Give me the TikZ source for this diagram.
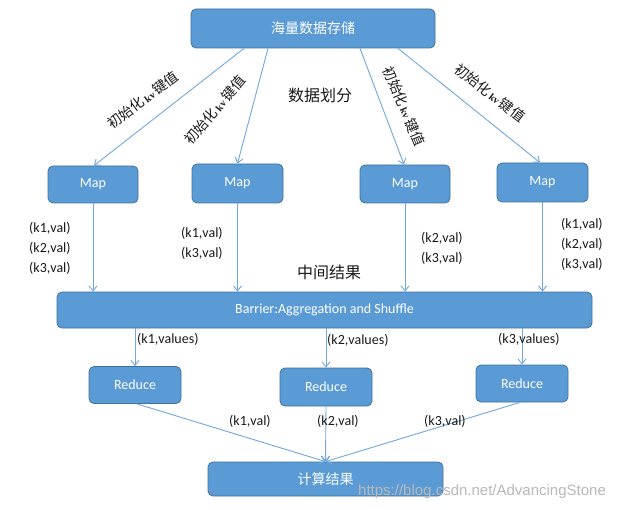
\documentclass[tikz,border=0pt]{standalone}
\usepackage{fontspec}
\setmainfont{Carlito}
\newfontfamily\cjk{Noto Sans CJK SC}
\newfontfamily\serifkv{Liberation Serif}
\newfontfamily\wmfont{Liberation Sans}
\usetikzlibrary{arrows.meta}
\definecolor{boxfill}{HTML}{5B9BD5}
\definecolor{boxline}{HTML}{41719C}
\definecolor{arrowc}{HTML}{6FA8DC}
\definecolor{txt}{HTML}{1A1A1A}
\newcommand{\kvtxt}{\hspace{2pt}{\serifkv\bfseries\fontsize{10}{12}\selectfont kv}\hspace{2pt}}
\begin{document}
\begin{tikzpicture}[x=1pt,y=-1pt,
  box/.style={draw=boxline,fill=boxfill,line width=0.8pt,rounded corners=5pt,
    text=white,inner sep=0pt,font=\fontsize{14}{16}\selectfont},
  flow/.style={draw=arrowc,line width=0.9pt,-{Straight Barb[length=5pt,width=8pt]}},
  lbl/.style={anchor=west,inner sep=0pt,text=txt,font=\fontsize{14}{16}\selectfont},
  big/.style={inner sep=0pt,text=txt,font=\cjk\fontsize{16}{18}\selectfont},
  rot/.style={inner sep=0pt,text=txt,font=\cjk\fontsize{14}{16}\selectfont}]
\useasboundingbox (0,0) rectangle (628,510);
\fill[white] (0,0) rectangle (628,510);

\node[box,minimum width=244pt,minimum height=39pt] (top) at (313,28.5) {\cjk 海量数据存储};
\node[box,minimum width=90pt,minimum height=37pt] (m1) at (93,184.5) {Map};
\node[box,minimum width=91pt,minimum height=39pt] (m2) at (237.5,183.5) {Map};
\node[box,minimum width=90pt,minimum height=38pt] (m3) at (405,184) {Map};
\node[box,minimum width=91pt,minimum height=39pt] (m4) at (542.5,182.5) {Map};
\node[box,minimum width=535pt,minimum height=36pt] (bar) at (324.5,310) {Barrier:Aggregation and Shuffle};
\node[box,minimum width=92pt,minimum height=37pt] (r1) at (135,385) {Reduce};
\node[box,minimum width=92pt,minimum height=38pt] (r2) at (326,387) {Reduce};
\node[box,minimum width=92pt,minimum height=37pt] (r3) at (522,383.5) {Reduce};
\node[box,minimum width=235pt,minimum height=34pt] (res) at (325.5,479) {\cjk 计算结果};

% top arrows
\draw[flow] ([xshift=-69pt]top.south) -- ([xshift=1pt]m1.north);
\draw[flow] ([xshift=-45pt]top.south) -- (m2.north);
\draw[flow] ([xshift=47pt]top.south) -- ([xshift=-1pt]m3.north);
\draw[flow] ([xshift=85pt]top.south) -- ([xshift=-2.5pt]m4.north);

% map to barrier
\foreach \m in {m1,m2,m3,m4}{
  \draw[flow] (\m.south) -- (\m.south |- bar.north);
}
% barrier to reduce
\foreach \r in {r1,r2,r3}{
  \draw[flow] (\r.north |- bar.south) -- (\r.north);
}
% reduce to result
\draw[flow] ([xshift=2pt]r1.south) -- (res.north);
\draw[flow] (r2.south) -- (res.north);
\draw[flow] ([xshift=-2pt]r3.south) -- (res.north);

% rotated labels
\node[rot,rotate=37] (l1) at (143,100) {初始化\kvtxt 键值};
\node[rot,rotate=50] (l2) at (215,110) {初始化\kvtxt 键值};
\node[rot,rotate=-67] (l3) at (404,106) {初始化\kvtxt 键值};
\node[rot,rotate=-38] (l4) at (490,93) {初始化\kvtxt 键值};

\node[big] (split) at (320,95) {数据划分};
\node[big] (mid) at (329,272) {中间结果};

% map output labels
\node[lbl] (a1) at (29,228) {(k1,val)};
\node[lbl] (a2) at (29,248) {(k2,val)};
\node[lbl] (a3) at (29,268) {(k3,val)};
\node[lbl] (b1) at (181,233) {(k1,val)};
\node[lbl] (b3) at (181,253) {(k3,val)};
\node[lbl] (c2) at (421,238) {(k2,val)};
\node[lbl] (c3) at (421,258) {(k3,val)};
\node[lbl] (d1) at (561,224) {(k1,val)};
\node[lbl] (d2) at (561,244) {(k2,val)};
\node[lbl] (d3) at (561,264) {(k3,val)};

\node[lbl] (v1) at (137,339) {(k1,values)};
\node[lbl] (v2) at (327,340) {(k2,values)};
\node[lbl] (v3) at (498,339) {(k3,values)};

\node[lbl] (e1) at (229,421) {(k1,val)};
\node[lbl] (e2) at (317,421) {(k2,val)};
\node[lbl] (e3) at (424,421) {(k3,val)};

\node[anchor=west,inner sep=0pt,text=gray!55,font=\wmfont\fontsize{15}{17}\selectfont] (wm) at (358,492) {https://blog.csdn.net/AdvancingStone};
\end{tikzpicture}
\end{document}
